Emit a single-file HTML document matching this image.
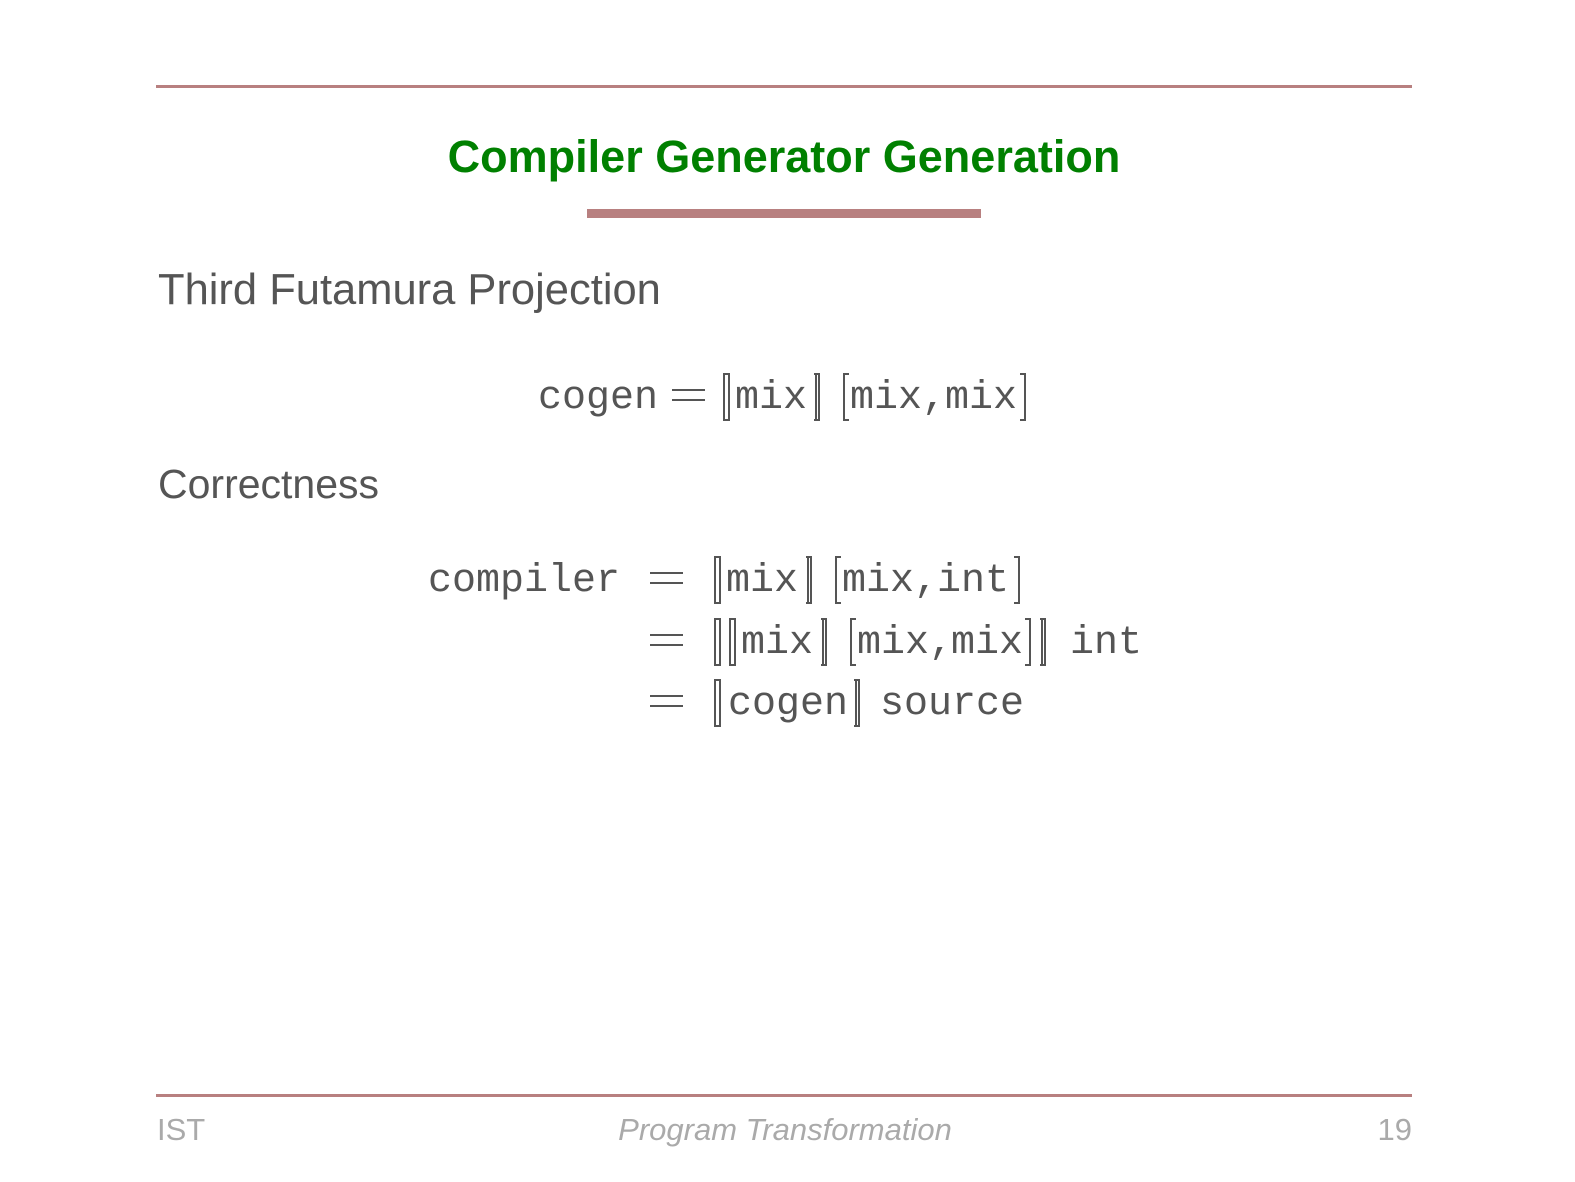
<!DOCTYPE html>
<html><head><meta charset="utf-8"><style>
body{margin:0;width:1575px;height:1182px;background:#fff;position:relative;overflow:hidden}
.a{position:absolute;white-space:nowrap}
.m{font-family:"Liberation Mono",monospace;font-size:40px;line-height:40px;color:#555}
.s{font-family:"Liberation Sans",sans-serif;color:#555}
.r{position:absolute;background:#b88080}
.lb{position:absolute;border:2px solid #555;border-right:none;width:6px;box-sizing:border-box}
.rb{position:absolute;border:2px solid #555;border-left:none;width:6px;box-sizing:border-box}
.v{position:absolute;width:2px;background:#555}
.eq{position:absolute;width:33px;height:12px;border-top:2px solid #555;border-bottom:2px solid #555;box-sizing:border-box}
</style></head><body>
<div class="r" style="left:156px;top:85px;width:1256px;height:3px"></div>
<div class="a" style="left:0;width:1568px;text-align:center;top:131px;font-family:'Liberation Sans',sans-serif;font-weight:bold;font-size:45px;color:#008000">Compiler Generator Generation</div>
<div class="r" style="left:587px;top:209px;width:394px;height:9px"></div>
<div class="a s" style="left:158px;top:266px;font-size:43.5px">Third Futamura Projection</div>
<div class="a s" style="left:158px;top:461px;font-size:41px">Correctness</div>

<!-- line 1 -->
<div class="a m" style="left:538px;top:379px">cogen</div>
<div class="eq" style="left:672px;top:389px"></div>
<div class="lb" style="left:723px;top:373px;height:48px"></div><div class="v" style="left:728px;top:373px;height:48px"></div>
<div class="a m" style="left:735px;top:379px">mix</div>
<div class="rb" style="left:814px;top:373px;height:48px"></div><div class="v" style="left:815px;top:373px;height:48px"></div>
<div class="lb" style="left:843px;top:373px;height:48px"></div>
<div class="a m" style="left:850px;top:379px">mix,</div>
<div class="a m" style="left:945px;top:379px">mix</div>
<div class="rb" style="left:1020px;top:373px;height:48px"></div>

<!-- line 2 -->
<div class="a m" style="left:428px;top:562px">compiler</div>
<div class="eq" style="left:650px;top:572px"></div>
<div class="lb" style="left:714px;top:556px;height:48px"></div><div class="v" style="left:719px;top:556px;height:48px"></div>
<div class="a m" style="left:726px;top:562px">mix</div>
<div class="rb" style="left:806px;top:556px;height:48px"></div><div class="v" style="left:807px;top:556px;height:48px"></div>
<div class="lb" style="left:835px;top:556px;height:48px"></div>
<div class="a m" style="left:842px;top:562px">mix,</div>
<div class="a m" style="left:937px;top:562px">int</div>
<div class="rb" style="left:1014px;top:556px;height:48px"></div>

<!-- line 3 -->
<div class="eq" style="left:650px;top:634px"></div>
<div class="lb" style="left:714px;top:618px;height:48px"></div><div class="v" style="left:719px;top:618px;height:48px"></div>
<div class="lb" style="left:729px;top:618px;height:48px"></div><div class="v" style="left:734px;top:618px;height:48px"></div>
<div class="a m" style="left:741px;top:624px">mix</div>
<div class="rb" style="left:821px;top:618px;height:48px"></div><div class="v" style="left:822px;top:618px;height:48px"></div>
<div class="lb" style="left:850px;top:618px;height:48px"></div>
<div class="a m" style="left:857px;top:624px">mix,</div>
<div class="a m" style="left:951px;top:624px">mix</div>
<div class="rb" style="left:1025px;top:618px;height:48px"></div>
<div class="rb" style="left:1040px;top:618px;height:48px"></div><div class="v" style="left:1041px;top:618px;height:48px"></div>
<div class="a m" style="left:1070px;top:624px">int</div>

<!-- line 4 -->
<div class="eq" style="left:650px;top:695px"></div>
<div class="lb" style="left:714px;top:679px;height:48px"></div><div class="v" style="left:719px;top:679px;height:48px"></div>
<div class="a m" style="left:728px;top:685px">cogen</div>
<div class="rb" style="left:854px;top:679px;height:48px"></div><div class="v" style="left:855px;top:679px;height:48px"></div>
<div class="a m" style="left:880px;top:685px">source</div>

<div class="r" style="left:156px;top:1094px;width:1256px;height:3px"></div>
<div class="a" style="left:157px;top:1112px;font-family:'Liberation Sans',sans-serif;font-size:31px;color:#aaa">IST</div>
<div class="a" style="left:0;width:1570px;text-align:center;top:1112px;font-family:'Liberation Sans',sans-serif;font-style:italic;font-size:31px;color:#aaa">Program Transformation</div>
<div class="a" style="left:1300px;width:112px;text-align:right;top:1112px;font-family:'Liberation Sans',sans-serif;font-size:31px;color:#aaa">19</div>
</body></html>
